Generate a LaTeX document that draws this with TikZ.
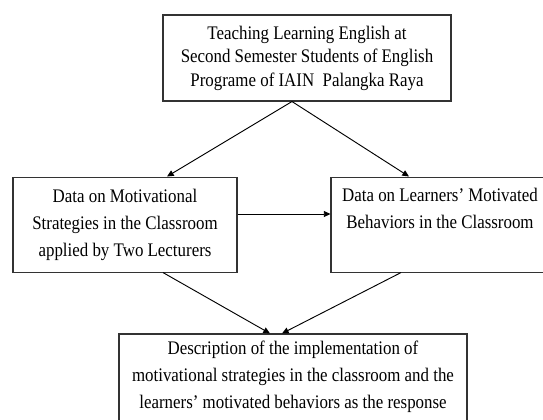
\documentclass[tikz,border=0pt]{standalone}
\usepackage{fontspec}
\setmainfont[FakeStretch=0.88]{Liberation Serif}
\usetikzlibrary{arrows.meta}

\begin{document}
\begin{tikzpicture}[node distance=124.9pt, every node/.style={draw=black!80, line width=0.8pt, align=center, inner sep=0pt, font=\fontsize{14.4}{20.25}\selectfont}, >={Triangle[length=5pt,width=4.5pt]}, line width=0.7pt]
\useasboundingbox (0,0) rectangle (407.25pt,-314.25pt);
\clip (0,0) rectangle (407.25pt,-314.25pt);
% Specification of nodes (position, etc.)

\node (title)        [minimum width=216pt, minimum height=64.5pt, font=\fontsize{14.4}{17.6}\selectfont] at (230.25pt,-43.5pt)  {Teaching Learning English at\\Second Semester Students of English\\Programe of IAIN\ \ Palangka Raya};

\node (strategies)   [minimum width=168pt, minimum height=71.25pt, below of=title, xshift=-136.5pt]     {Data on Motivational\\Strategies in the Classroom\\applied by Two Lecturers};
\node (behaviors)    [minimum width=163.5pt, minimum height=71.25pt, text depth=23.7pt, below of=title, xshift=99.75pt]  {Data on Learners’ Motivated\\Behaviors in the Classroom};

\node (description)  [minimum width=261pt, minimum height=82.5pt, text depth=21.2pt, below of=title, yshift=-123.35pt, xshift=-10.5pt]  {Description of the implementation of\\motivational strategies in the classroom and the\\learners’ motivated behaviors as the response};

\draw[->]             ([xshift=-11.25pt]title.south) -- ([xshift=31.5pt]strategies.north);
\draw[->]             ([xshift=-11.25pt]title.south) -- ([xshift=-23.25pt]behaviors.north);
\draw[->]             ([yshift=7.9pt]strategies.east) -- ([yshift=7.9pt]behaviors.west);

\draw[->]             ([xshift=28.5pt]strategies.south) -- ([xshift=-17.25pt]description.north);
\draw[->]             ([xshift=-29.25pt]behaviors.south) -- ([xshift=-8.25pt]description.north);

\end{tikzpicture}
\end{document}
